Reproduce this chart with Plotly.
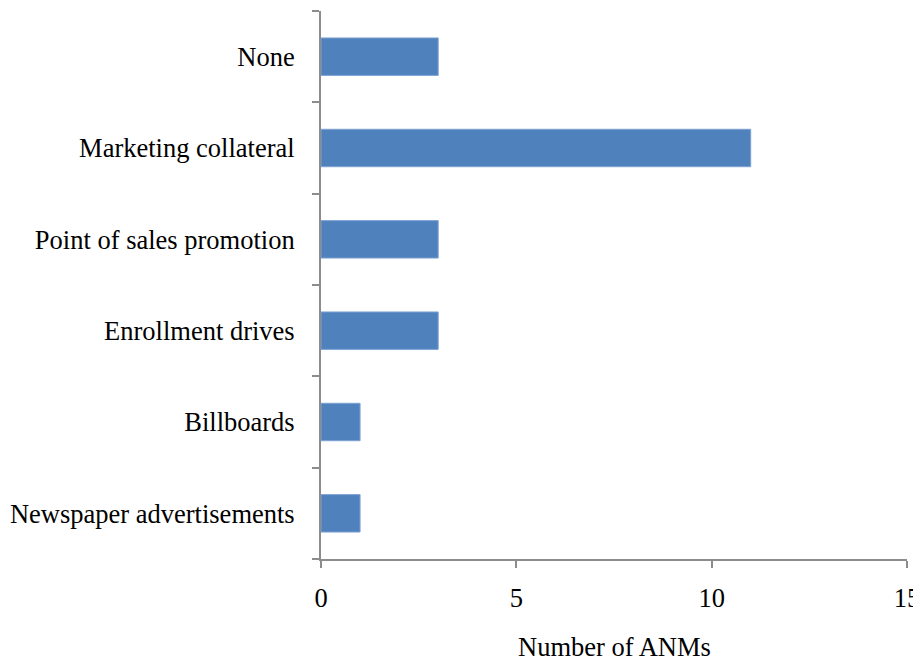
import plotly.graph_objects as go

categories = ["Newspaper advertisements", "Billboards", "Enrollment drives",
              "Point of sales promotion", "Marketing collateral", "None"]
values = [1, 1, 3, 3, 11, 3]
x_ticks = [0, 5, 10, 15]
x_title = "Number of ANMs"

fig = go.Figure(go.Bar(
    x=values, y=categories, orientation="h",
    marker=dict(color="#4F81BD", line=dict(color="#7FA3D3", width=1)),
))

font = dict(family="Liberation Serif, Times New Roman, serif", size=26.5, color="#000000")

fig.update_layout(
    width=921, height=661,
    margin=dict(l=313, r=22, t=3, b=110),
    paper_bgcolor="white", plot_bgcolor="white",
    bargap=0.59, showlegend=False, font=font,
)
fig.add_annotation(
    text=x_title, xref="paper", yref="paper", x=0.5, y=0,
    xanchor="center", yanchor="middle", yshift=-88, showarrow=False, font=font,
)
fig.update_xaxes(
    range=[0, 15], tickvals=x_ticks, showgrid=False, zeroline=False,
    showline=True, linecolor="#8C8C8C", linewidth=2,
    ticks="outside", ticklen=7, tickwidth=2, tickcolor="#8C8C8C",
    ticklabelstandoff=7,
)
fig.update_yaxes(
    categoryorder="array", categoryarray=categories,
    showgrid=False, zeroline=False,
    showline=True, linecolor="#8C8C8C", linewidth=2,
    ticks="outside", ticklen=7, tickwidth=2, tickcolor="#8C8C8C",
    tickson="boundaries", ticklabelstandoff=19,
)

fig.write_html("out.html")
